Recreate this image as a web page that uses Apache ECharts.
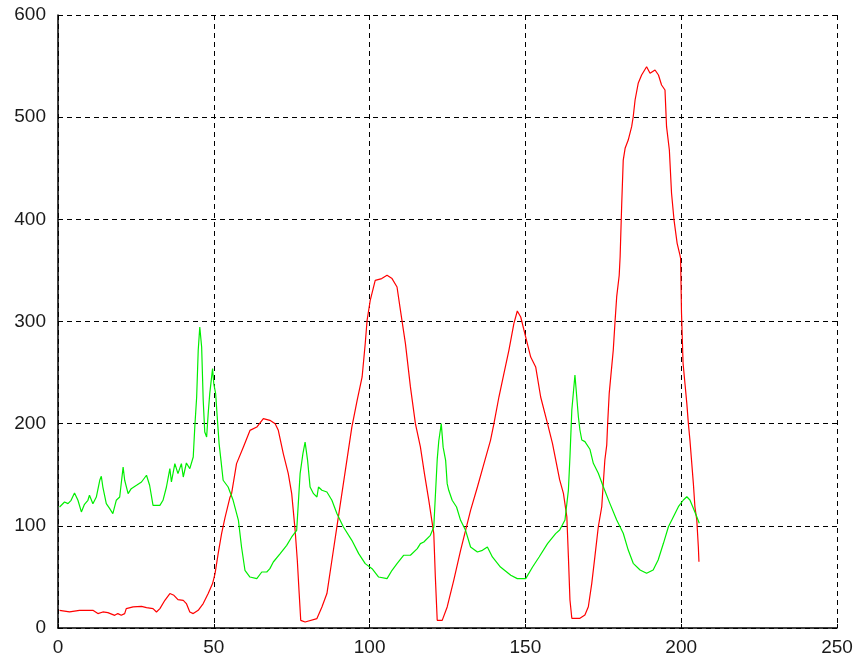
<!DOCTYPE html>
<html>
<head>
<meta charset="utf-8">
<script src="https://cdn.jsdelivr.net/npm/echarts@6/dist/echarts.min.js"></script>
<style>
html,body{margin:0;padding:0;background:#fff;}
#chart{width:857px;height:659px;}
</style>
</head>
<body>
<div id="chart"></div>
<script>
const xTicks = [0, 50, 100, 150, 200, 250];
const yTicks = [0, 100, 200, 300, 400, 500, 600];

const redX = [0.5,3.7,6.9,11.2,12.8,14.4,16,18.2,19.2,20.3,21.4,21.9,24.1,26.8,28.4,30.5,31.6,32.7,34.3,35.9,37.2,38.5,40.2,41.2,42.3,43.4,45,46.6,48.2,49.6,50.4,51.4,52.5,53.6,55.2,55.7,57.3,59.5,61.6,63.8,65.9,68,69.7,70.7,72.3,73.9,75,76.1,76.8,77.4,77.9,79.3,83.1,84.7,86.3,87.9,89.5,91.1,92.7,94.3,96,97.6,98.6,99.2,100.2,101.8,103.9,105.6,107.2,108.8,109.9,111.5,113.1,114.7,116.3,117.6,119,120.6,121.1,121.7,123.3,124.9,127,129.2,130.8,132.4,134.6,136.7,138.8,139.9,141.5,143.1,144.7,146.3,147.4,148.5,150.1,151.7,153.3,154.9,157.1,158.7,161,162.2,163.3,163.8,164.3,164.9,167.5,169.1,170.2,171.3,172.3,173.4,174.5,175,175.5,176.1,176.4,176.9,177.4,178.2,178.8,179.3,180.1,180.4,180.9,181.4,182,183,184.1,184.6,185.2,186.2,187.3,188.9,190,191.6,192.7,193.7,194.8,195.3,196.2,196.9,197.7,198.7,199.6,199.8,200.1,200.6,201.2,201.8,202.3,202.8,203.9,204.4,205,205.5,205.7];
const redY = [17.3,15.7,17.3,17.3,14.1,15.7,15,12.4,14.1,12.4,14.1,19,20.6,21.2,19.9,19,15.7,19,27.1,33.7,32,27.8,27.1,23.9,15.7,14.1,17.3,23.9,33.7,43.5,53.2,72.8,92.4,108,128,131.5,160.9,177.2,193.4,196.7,205,203.3,200,193.5,170.7,151.1,131.5,95.6,66.3,33.7,7.5,5.9,9.2,20.6,33.7,66.3,98.9,131.5,164.1,196.7,222.8,245.7,278.4,301.2,320.7,340.3,342,345.2,342,333.8,310.9,278.4,236,200,177.2,151.1,125,92.4,49.9,7.5,7.5,20.6,46.7,76,95.6,115.2,138,160.9,183.7,200,226.1,249,271.8,297.9,310.3,304.4,284.8,265.2,255.5,226.1,200,180.5,144.9,131.8,108.9,69.8,27.4,9.5,9.5,12.7,20.8,43.7,69.8,99.1,118.7,141.6,164.4,179,200.3,229.7,246,272.1,301.5,324.3,345,363.4,414,458,469.5,477.6,490.7,500.4,516.8,533.1,541.3,549.4,543,546.2,541.3,531.5,526.6,490.7,467.9,425.5,399.3,376.5,365,361.9,308,259.1,239.5,219.9,200.3,184,141.6,118.7,105.7,79.6,64.9];

const greenX = [0.5,2.1,3.2,4.2,5.3,6.4,7.5,8.5,9.6,10.1,11.2,12.3,13.4,13.9,14.4,15.5,16.6,17.6,18.7,19.8,20.9,21.4,22.5,23.5,25.2,26.8,28.4,29.4,30.5,32.7,33.7,34.8,35.9,36.4,37.5,38.5,39.6,40.2,41.2,42.3,42.9,43.4,43.9,44.5,45,45.5,46.1,46.6,47.1,47.7,48.2,48.7,49.6,50,50.6,51.1,51.7,52.3,53,54.6,56.2,57.9,58.9,60,61.6,63.8,65.4,67,68,69.1,71.3,73.4,75,76.6,77.7,78.6,79.3,80.1,80.9,82,83.1,83.6,84.7,86.3,87.9,89.5,91.6,94.3,96.5,98.6,100.8,102.9,105.6,107.2,108.8,110.9,113.1,115.3,116.3,117.4,119.5,120.6,121.7,122.2,123,123.6,124.4,124.9,125.4,126.5,127.9,129.2,130.8,132.4,134.6,136.2,137.8,139.4,142,145.3,147.4,150.1,152.3,154.4,157.1,159.7,161,162.7,163.8,164.3,164.9,165.9,167,167.5,168.1,169.1,169.7,170.7,171.8,173.4,175,177.1,179.3,181.4,183,184.6,186.8,188.9,191,192.6,194.3,195.9,197.5,199.1,200.7,201.8,202.8,203.9,205,205.8];
const greenY = [118.4,123.3,121.7,125,132.2,125,113.6,121.1,125,129.9,121.7,128.2,144.6,148.5,138,121.7,116.8,112,125,128.2,157.6,144.6,131.5,136.4,139.7,142.9,149.5,139.7,120,120,125,138,156,142.9,160.9,151.1,160.9,147.8,161.5,156,154.4,167.4,196.7,226.1,271.8,294.6,275,222.9,191.9,186.9,209.9,229.4,253.9,239,229.4,206.5,180.5,164.1,144.6,138,125,105.4,79.3,56.5,49.9,48.3,54.8,54.8,58.1,64.6,72.8,80.9,89.1,95.6,151.1,170.7,182,164.1,138,131.5,128.2,138,134.8,133.1,125,112,98.9,85.8,72.8,63,58.1,49.9,48.3,56.5,63,71.2,71.2,77.7,82.6,84.2,90.7,98.9,165,183,200,177,164.1,141.3,134.8,125,118.4,105.4,95.6,79.3,74.4,76,79.3,69.5,59.7,51.6,48.3,48.3,59.7,69.5,82.6,92.4,95.9,105.7,135,167.6,213.4,247.6,206.8,193.8,184,182.4,182.4,175,161.2,151.4,138.3,122,105.7,92.7,76.3,63.3,56.8,53.5,56.8,66.6,82.9,99.1,108.9,118.7,125.3,128.5,125.3,117.2,108.9,102.5];

function pairs(xs, ys) { return xs.map((x, i) => [x, ys[i]]); }

const chart = echarts.init(document.getElementById('chart'), null, {renderer: 'canvas'});
const labelStyle = {color: '#1a1a1a', fontSize: 19, fontFamily: '"Liberation Sans", Arial, sans-serif'};
const gridLine = {show: true, lineStyle: {color: '#000', width: 1, type: [5, 4]}};
chart.setOption({
  animation: false,
  backgroundColor: '#fff',
  grid: {left: 58, right: 20, top: 15, bottom: 31, containLabel: false},
  xAxis: {
    type: 'value', min: xTicks[0], max: xTicks[xTicks.length - 1], interval: 50,
    axisLine: {show: true, onZero: false, lineStyle: {color: '#000', width: 1.5}},
    axisTick: {show: true, inside: true, length: 4, lineStyle: {color: '#000'}},
    axisLabel: Object.assign({margin: 10}, labelStyle),
    splitLine: gridLine
  },
  yAxis: {
    type: 'value', min: yTicks[0], max: yTicks[yTicks.length - 1], interval: 100,
    axisLine: {show: true, onZero: false, lineStyle: {color: '#000', width: 1.5}},
    axisTick: {show: true, inside: true, length: 4, lineStyle: {color: '#000'}},
    axisLabel: Object.assign({margin: 12}, labelStyle),
    splitLine: gridLine
  },
  series: [
    {type: 'line', data: pairs(redX, redY), showSymbol: false, symbol: 'none',
     lineStyle: {color: '#ff0000', width: 1.2}, z: 3},
    {type: 'line', data: pairs(greenX, greenY), showSymbol: false, symbol: 'none',
     lineStyle: {color: '#00ee00', width: 1.2}, z: 4}
  ]
});
</script>
</body>
</html>
